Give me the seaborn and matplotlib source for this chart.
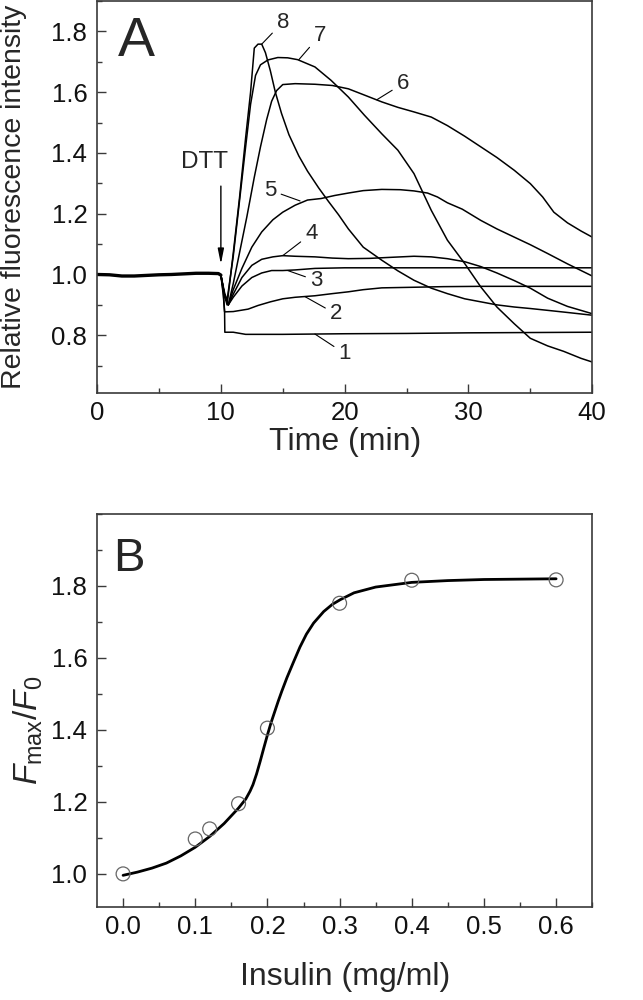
import numpy as np
import pandas as pd
import matplotlib
matplotlib.use("Agg")
import matplotlib.pyplot as plt
from matplotlib.ticker import MultipleLocator, FormatStrFormatter
import seaborn as sns

# ── Panel A: fluorescence kinetics after DTT addition ─────────────────────────
baseline_t = [0, 1, 2, 3, 4, 5, 6, 7, 8, 9, 9.8, 10.0]
baseline_v = [1.0, 0.999, 0.995, 0.995, 0.997, 0.999, 1.0, 1.002, 1.004, 1.004, 1.003, 0.998]

c1_t = [10.0, 10.2, 10.3, 10.32, 11.0, 12.0, 15, 20, 25, 30, 35, 40]
c1_v = [0.998, 0.94, 0.877, 0.81, 0.81, 0.803, 0.803, 0.805, 0.806, 0.808, 0.809, 0.81]

c2_t = [10.0, 10.2, 10.3, 11.0, 12.2, 13.0, 14.0, 15.0, 16.0, 17.6, 19.0, 20.3, 21.5, 23.0, 25.6, 28.0, 31.0, 35.0, 40.0]
c2_v = [0.998, 0.93, 0.877, 0.878, 0.886, 0.898, 0.91, 0.92, 0.925, 0.93, 0.937, 0.943, 0.95, 0.956, 0.958, 0.96, 0.961, 0.961, 0.961]

c3_t = [10.0, 10.3, 10.6, 11.0, 11.7, 12.5, 13.3, 14.1, 15.0, 16.0, 17.6, 20.0, 25, 30, 35, 40]
c3_v = [0.998, 0.93, 0.9, 0.925, 0.962, 0.99, 1.005, 1.013, 1.013, 1.015, 1.02, 1.022, 1.022, 1.022, 1.022, 1.022]

c4_t = [10.0, 10.3, 10.6, 11.0, 11.7, 12.5, 13.3, 14.2, 15.0, 16.0, 17.6, 19, 20.3, 22, 23.5, 25.6, 27, 28.3,
        29.7, 31, 32.3, 33.7, 35, 36.4, 38, 40]
c4_v = [0.998, 0.93, 0.9, 0.935, 0.99, 1.03, 1.05, 1.058, 1.062, 1.06, 1.058, 1.054, 1.052, 1.053, 1.056, 1.06,
        1.058, 1.052, 1.042, 1.026, 1.005, 0.98, 0.955, 0.922, 0.895, 0.871]

c5_t = [10.0, 10.3, 10.6, 11.0, 11.7, 12.5, 13.3, 14.2, 15.0, 16.0, 17.0, 18.1, 19.2, 20.3, 21.5, 23.0, 24.5,
        25.6, 26.7, 27.5, 28.3, 29.5, 31, 32.3, 33.7, 35, 36.4, 38, 40]
c5_v = [0.998, 0.93, 0.9, 0.95, 1.02, 1.09, 1.14, 1.18, 1.205, 1.228, 1.245, 1.25, 1.26, 1.268, 1.276, 1.28,
        1.279, 1.275, 1.268, 1.255, 1.236, 1.215, 1.178, 1.15, 1.123, 1.098, 1.069, 1.035, 0.995]

c6_t = [10.0, 10.3, 10.6, 11.0, 11.5, 12.1, 12.7, 13.2, 13.7, 14.1, 14.5, 15.0, 16.0, 17.6, 19.0, 20.3, 21.5,
        23.0, 24.3, 25.6, 27.0, 28.3, 29.7, 31.0, 32.3, 33.7, 35.0, 36.0, 36.9, 38.0, 39.1, 40.0]
c6_v = [0.998, 0.93, 0.9, 0.97, 1.07, 1.19, 1.32, 1.42, 1.51, 1.57, 1.605, 1.625, 1.628, 1.626, 1.622, 1.611,
        1.592, 1.568, 1.55, 1.535, 1.518, 1.49, 1.455, 1.42, 1.385, 1.343, 1.299, 1.255, 1.205, 1.17, 1.143, 1.123]

c7_t = [10.0, 10.3, 10.5, 11.0, 11.5, 12.0, 12.4, 12.8, 13.2, 13.8, 14.6, 15.4, 16.2, 17.6, 18.9, 20.3, 21.6,
        23.0, 24.3, 25.6, 27.0, 28.3, 29.7, 31.0, 32.3, 33.7, 35.0, 36.4, 37.7, 39.1, 40.0]
c7_v = [0.998, 0.94, 0.915, 1.06, 1.24, 1.42, 1.56, 1.655, 1.69, 1.706, 1.714, 1.713, 1.707, 1.683, 1.639,
        1.584, 1.524, 1.463, 1.409, 1.332, 1.211, 1.113, 1.036, 0.959, 0.893, 0.838, 0.79, 0.765, 0.747, 0.724, 0.712]

c8_t = [10.0, 10.3, 10.5, 11.0, 11.5, 12.0, 12.4, 12.7, 13.0, 13.3, 13.6, 14.0, 14.4, 14.9, 15.5, 16.3, 17.0,
        17.9, 18.7, 19.5, 20.3, 21.5, 23.0, 24.3, 25.6, 27.0, 28.3, 29.7, 31.0, 32.3, 33.7, 35.0, 36.4, 38.0, 40.0]
c8_v = [0.998, 0.93, 0.9, 1.07, 1.25, 1.45, 1.6, 1.745, 1.758, 1.758, 1.73, 1.67, 1.6, 1.53, 1.46, 1.39, 1.34,
        1.285, 1.24, 1.197, 1.15, 1.09, 1.047, 1.012, 0.981, 0.955, 0.937, 0.92, 0.91, 0.9, 0.893, 0.888, 0.882,
        0.875, 0.866]

curve_names = ["1", "2", "3", "4", "5", "6", "7", "8"]
curve_t = [c1_t, c2_t, c3_t, c4_t, c5_t, c6_t, c7_t, c8_t]
curve_v = [c1_v, c2_v, c3_v, c4_v, c5_v, c6_v, c7_v, c8_v]

# curve number labels: text position and the point on the curve they point to
label_tx = [20.0, 19.3, 17.7, 17.3, 14.0, 24.7, 18.0, 15.0]
label_ty = [0.74, 0.87, 0.98, 1.134, 1.277, 1.628, 1.787, 1.83]
label_px = [17.6, 16.8, 15.4, 15.0, 16.4, 22.6, 16.3, 13.3]
label_py = [0.804, 0.927, 1.013, 1.062, 1.242, 1.575, 1.707, 1.758]

dtt_time = 10.0

# ── Panel B: Fmax/F0 vs insulin concentration ─────────────────────────────────
insulin = [0.0, 0.1, 0.12, 0.16, 0.2, 0.3, 0.4, 0.6]
fmax_f0 = [1.0, 1.097, 1.125, 1.195, 1.405, 1.752, 1.816, 1.817]

fit_x = [0.0, 0.02, 0.04, 0.06, 0.08, 0.1, 0.12, 0.14, 0.16, 0.17, 0.176, 0.18, 0.185, 0.19, 0.195, 0.2,
         0.205, 0.21, 0.215, 0.22, 0.227, 0.236, 0.245, 0.254, 0.264, 0.278, 0.29, 0.301, 0.32, 0.35, 0.4,
         0.45, 0.5, 0.55, 0.6]
fit_y = [0.996, 1.005, 1.016, 1.03, 1.05, 1.074, 1.104, 1.14, 1.183, 1.208, 1.23, 1.248, 1.278, 1.313,
         1.35, 1.386, 1.42, 1.45, 1.48, 1.508, 1.545, 1.588, 1.63, 1.666, 1.697, 1.729, 1.749, 1.762, 1.781,
         1.797, 1.81, 1.815, 1.818, 1.819, 1.82]

# ── Style ─────────────────────────────────────────────────────────────────────
sns.set_style("ticks")
plt.rcParams["font.family"] = ["Liberation Sans", "DejaVu Sans"]
plt.rcParams["mathtext.fontset"] = "custom"
plt.rcParams["mathtext.rm"] = "Liberation Sans"
plt.rcParams["mathtext.it"] = "Liberation Sans:italic"

spine_col = "#3a3a3a"
tick_fs = 18.5

fig = plt.figure(figsize=(6.43, 10), dpi=100)
ax_a = fig.add_axes([0.151, 0.607, 0.770, 0.392])
ax_b = fig.add_axes([0.151, 0.093, 0.770, 0.393])


def style_axes(ax):
    for side in ["top", "right", "bottom", "left"]:
        ax.spines[side].set_visible(True)
        ax.spines[side].set_color(spine_col)
        ax.spines[side].set_linewidth(1.2)
    ax.tick_params(which="both", direction="in", top=False, right=False,
                   color=spine_col, width=1.0, labelsize=tick_fs, labelcolor="#111111")
    ax.tick_params(which="major", length=6.5)
    ax.tick_params(which="minor", length=3.5)
    ax.tick_params(axis="y", pad=7)
    ax.tick_params(axis="x", pad=6)


# Panel A
rows = []
for name, ts, vs in zip(curve_names, curve_t, curve_v):
    for t, v in zip(ts, vs):
        rows.append({"curve": name, "time": t, "intensity": v})
df_a = pd.DataFrame(rows)

sns.lineplot(x=baseline_t, y=baseline_v, color="black", lw=2.4, ax=ax_a)
sns.lineplot(data=df_a, x="time", y="intensity", units="curve", estimator=None,
             color="black", lw=1.1, ax=ax_a)

for name, tx, ty, px, py in zip(curve_names, label_tx, label_ty, label_px, label_py):
    ax_a.annotate(name, xy=(px, py), xytext=(tx, ty), ha="center", va="center",
                  fontsize=16, arrowprops=dict(arrowstyle="-", color="black", lw=0.8,
                                               shrinkA=1, shrinkB=0))

ax_a.annotate("", xy=(dtt_time, 1.025), xytext=(dtt_time, 1.30),
              arrowprops=dict(arrowstyle="-|>,head_width=0.18,head_length=0.9",
                              color="black", lw=1.0))
ax_a.text(8.7, 1.37, "DTT", ha="center", va="center", fontsize=17.5)
ax_a.text(3.2, 1.765, "A", ha="center", va="center", fontsize=40)

ax_a.set_xlim(0, 40)
ax_a.set_ylim(0.61, 1.9)
ax_a.xaxis.set_major_locator(MultipleLocator(10))
ax_a.xaxis.set_minor_locator(MultipleLocator(5))
ax_a.yaxis.set_major_locator(MultipleLocator(0.2))
ax_a.yaxis.set_minor_locator(MultipleLocator(0.1))
ax_a.set_xlabel("Time (min)", fontsize=23)
ax_a.set_ylabel("Relative fluorescence intensity", fontsize=20.5)
ax_a.xaxis.set_label_coords(0.5, -0.088)
ax_a.yaxis.set_label_coords(-0.142, 0.5)
style_axes(ax_a)

# Panel B
sns.lineplot(x=fit_x, y=fit_y, color="black", lw=2.0, ax=ax_b)
sns.scatterplot(x=insulin, y=fmax_f0, marker="o", s=100, facecolor="none",
                edgecolor="#666666", linewidth=0.9, ax=ax_b, zorder=3)
ax_b.text(0.008, 1.875, "B", ha="center", va="center", fontsize=34)

ax_b.set_xlim(-0.036, 0.65)
ax_b.set_ylim(0.908, 2.0)
ax_b.xaxis.set_major_locator(MultipleLocator(0.1))
ax_b.xaxis.set_minor_locator(MultipleLocator(0.05))
ax_b.set_yticks([1.0, 1.2, 1.4, 1.6, 1.8])
ax_b.yaxis.set_minor_locator(MultipleLocator(0.1))
ax_b.xaxis.set_major_formatter(FormatStrFormatter("%.1f"))
ax_b.yaxis.set_major_formatter(FormatStrFormatter("%.1f"))
ax_b.set_xlabel("Insulin (mg/ml)", fontsize=23)
ax_b.set_ylabel(r"$F_{\mathrm{max}}/F_{\mathrm{0}}$", fontsize=24)
ax_b.xaxis.set_label_coords(0.5, -0.14)
ax_b.yaxis.set_label_coords(-0.105, 0.45)
style_axes(ax_b)

fig.savefig("out.png", dpi=100)
